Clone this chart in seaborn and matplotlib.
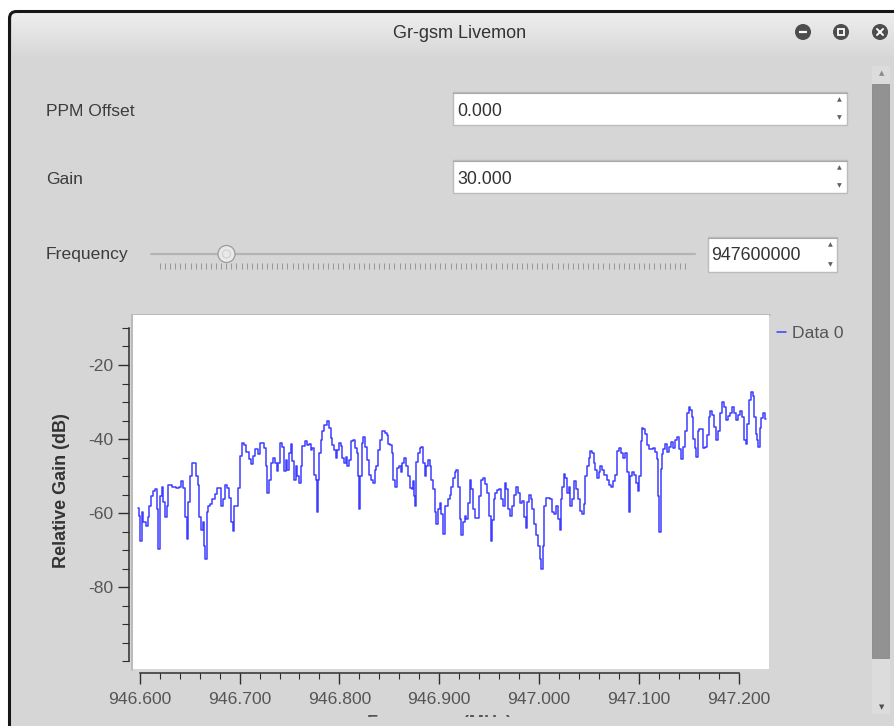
import numpy as np
import pandas as pd
import matplotlib
matplotlib.use("Agg")
import matplotlib.pyplot as plt
import seaborn as sns
from matplotlib.patches import Rectangle, Circle, FancyBboxPatch
from matplotlib.colors import LinearSegmentedColormap
from matplotlib.ticker import FixedLocator, FuncFormatter
from matplotlib.transforms import Bbox

# ---------------- data ----------------
freq_mhz = [
    946.5984, 946.5997, 946.6011, 946.6027, 946.6044, 946.6071, 946.6084, 946.6104, 946.6117, 946.6144,
    946.6164, 946.6177, 946.6194, 946.6211, 946.6227, 946.6244, 946.6261, 946.6277, 946.6294, 946.6311,
    946.6344, 946.6377, 946.6404, 946.6421, 946.6444, 946.6461, 946.6477, 946.6494, 946.6517, 946.6537,
    946.6554, 946.6571, 946.6587, 946.6604, 946.6621, 946.6637, 946.6651, 946.6661, 946.6677, 946.6694,
    946.6717, 946.6737, 946.6761, 946.6777, 946.6804, 946.6827, 946.6844, 946.6864, 946.6884, 946.6904,
    946.6924, 946.6937, 946.6954, 946.6977, 946.6997, 946.7017, 946.7037, 946.7061, 946.7077, 946.7104,
    946.7124, 946.7144, 946.7171, 946.7194, 946.7211,
    946.7237, 946.7254, 946.7271, 946.7287, 946.7304, 946.7321, 946.7344, 946.7364, 946.7377, 946.7397,
    946.7421, 946.7437, 946.7454, 946.7471, 946.7487, 946.7504, 946.7521, 946.7537, 946.7554, 946.7571,
    946.7587, 946.7604, 946.7621, 946.7637, 946.7664, 946.7687, 946.7704, 946.7721, 946.7737, 946.7754,
    946.7771, 946.7784, 946.7797, 946.7804, 946.7821, 946.7837, 946.7857, 946.7887, 946.7904, 946.7921,
    946.7937, 946.7954, 946.7971, 946.7987, 946.8004, 946.8021, 946.8037, 946.8054, 946.8071, 946.8087,
    946.8104, 946.8124, 946.8144, 946.8164, 946.8184, 946.8197, 946.8204, 946.8214, 946.8231, 946.8251,
    946.8271, 946.8287, 946.8304, 946.8327, 946.8347, 946.8364, 946.8377, 946.8397, 946.8417, 946.8444,
    946.8471,
    946.8481, 946.8497, 946.8514, 946.8531, 946.8547, 946.8564, 946.8581, 946.8604, 946.8624, 946.8637,
    946.8657, 946.8677, 946.8697, 946.8714, 946.8731, 946.8747, 946.8757, 946.8764, 946.8781, 946.8797,
    946.8814, 946.8831, 946.8847, 946.8864, 946.8881, 946.8897, 946.8914, 946.8931, 946.8947, 946.8964,
    946.8981, 946.8997, 946.9014, 946.9031, 946.9047, 946.9064, 946.9081, 946.9097, 946.9114, 946.9131,
    946.9147, 946.9164, 946.9181, 946.9197, 946.9214, 946.9231, 946.9247, 946.9264, 946.9281, 946.9297,
    946.9314, 946.9331, 946.9347, 946.9364, 946.9391, 946.9414, 946.9431, 946.9451, 946.9471, 946.9491,
    946.9511, 946.9524, 946.9537, 946.9554, 946.9571, 946.9591, 946.9611, 946.9631, 946.9647, 946.9664,
    946.9684, 946.9704, 946.9717,
    946.9724, 946.9741, 946.9764, 946.9784, 946.9804, 946.9824, 946.9844, 946.9857, 946.9874, 946.9891,
    946.9907, 946.9924, 946.9944, 946.9964, 946.9984, 947.0004, 947.0017, 947.0031, 947.0044, 947.0057,
    947.0074, 947.0097, 947.0124, 947.0144, 947.0164, 947.0184, 947.0197, 947.0217, 947.0224, 947.0241,
    947.0257, 947.0274, 947.0291, 947.0307, 947.0324, 947.0344, 947.0364, 947.0384, 947.0404, 947.0424,
    947.0441, 947.0457, 947.0474, 947.0491, 947.0507, 947.0524, 947.0541, 947.0557, 947.0574, 947.0591,
    947.0607, 947.0624, 947.0644, 947.0664, 947.0691, 947.0711, 947.0731, 947.0751, 947.0771, 947.0791,
    947.0811, 947.0831, 947.0851, 947.0871, 947.0891, 947.0907, 947.0924, 947.0944, 947.0964, 947.0984,
    947.0994, 947.1011, 947.1024, 947.1037, 947.1057, 947.1077, 947.1097, 947.1117, 947.1137, 947.1157,
    947.1171, 947.1184, 947.1197, 947.1211, 947.1224, 947.1237, 947.1257, 947.1277, 947.1297, 947.1317,
    947.1337, 947.1357, 947.1377, 947.1397, 947.1417, 947.1437, 947.1457, 947.1477, 947.1497, 947.1511,
    947.1524, 947.1537, 947.1551, 947.1571, 947.1584, 947.1597, 947.1617, 947.1637, 947.1651, 947.1671,
    947.1691, 947.1711, 947.1724, 947.1744, 947.1764, 947.1784, 947.1804, 947.1824, 947.1844, 947.1864,
    947.1884, 947.1904, 947.1924, 947.1944, 947.1964, 947.1984, 947.2004, 947.2024, 947.2044, 947.2064,
    947.2077, 947.2097, 947.2111, 947.2131, 947.2151, 947.2164, 947.2177, 947.2191, 947.2204, 947.2217,
    947.2237, 947.2251, 947.2271,
]

gain_db = [
    -58.5, -60.8, -67.5, -59.8, -62.5, -63.5, -61.0, -58.0, -55.4, -54.0,
    -53.6, -59.0, -69.7, -55.4, -53.0, -57.0, -61.0, -58.0, -52.5, -52.3,
    -53.0, -53.2, -53.0, -51.4, -53.3, -61.0, -67.0, -57.0, -50.0, -46.4,
    -46.4, -50.0, -52.5, -61.0, -64.4, -62.5, -68.8, -72.4, -59.8, -58.0,
    -57.6, -56.3, -54.8, -53.3, -53.1, -58.0, -56.3, -52.3, -53.3, -56.0,
    -62.5, -64.8, -58.0, -58.0, -53.2, -44.6, -41.0, -41.5, -43.6, -45.4,
    -46.7, -44.5, -42.6, -44.0, -41.0,
    -41.0, -42.5, -47.3, -54.5, -51.0, -46.5, -45.2, -46.5, -48.7, -46.5,
    -41.0, -42.0, -48.7, -45.7, -48.3, -43.7, -41.2, -46.0, -51.0, -47.3,
    -50.0, -51.8, -47.3, -41.9, -40.6, -41.5, -41.2, -42.9, -42.4, -49.6,
    -51.0, -59.8, -51.0, -43.8, -40.2, -37.9, -36.1, -35.2, -37.0, -39.7,
    -41.5, -42.9, -45.2, -42.9, -41.0, -41.9, -45.2, -46.5, -44.7, -47.3,
    -45.7, -40.5, -40.2, -42.4, -43.8, -50.0, -59.0, -50.0, -41.0, -39.3,
    -42.0, -45.7, -49.6, -51.0, -51.8, -48.3, -47.3, -42.9, -40.2, -37.9,
    -38.3,
    -39.0, -41.2, -41.6, -43.8, -51.0, -52.8, -47.7, -47.3, -48.9, -46.5,
    -45.2, -47.3, -50.0, -53.1, -53.6, -51.4, -55.4, -58.0, -46.1, -43.8,
    -42.5, -42.0, -46.5, -50.0, -47.3, -45.7, -47.3, -51.0, -53.6, -59.8,
    -63.0, -59.0, -57.2, -60.3, -65.7, -58.0, -58.0, -56.3, -55.0, -52.8,
    -50.6, -48.9, -48.4, -52.8, -61.6, -66.0, -62.5, -60.7, -61.6, -57.2,
    -51.0, -53.6, -59.0, -61.2, -61.2, -55.4, -51.0, -50.6, -52.0, -54.5,
    -60.7, -67.5, -61.9, -56.3, -54.5, -53.8, -53.6, -56.3, -58.0, -51.8,
    -53.6, -59.0, -60.7,
    -60.8, -58.0, -55.0, -53.0, -54.5, -57.2, -56.8, -61.0, -64.0, -57.0,
    -55.0, -56.3, -59.0, -63.0, -66.0, -68.8, -72.4, -75.1, -68.8, -58.0,
    -55.9, -55.9, -56.3, -59.8, -60.3, -58.0, -61.6, -64.4, -56.3, -52.8,
    -49.3, -50.6, -54.5, -52.8, -58.0, -56.3, -51.4, -53.6, -56.3, -59.4,
    -60.3, -57.6, -50.0, -47.3, -45.2, -43.3, -43.8, -46.5, -48.4, -50.6,
    -48.9, -47.3, -48.3, -49.6, -51.0, -52.3, -52.8, -51.4, -49.6, -43.3,
    -42.4, -43.8, -45.2, -43.8, -48.8, -59.8, -50.0, -48.9, -49.6, -51.8,
    -54.0, -50.0, -40.5, -37.0, -37.3, -38.6, -41.5, -42.7, -42.7, -42.3,
    -43.6, -45.5, -55.4, -65.2, -48.0, -44.0, -42.7, -41.2, -43.6, -42.0,
    -40.8, -42.5, -40.3, -39.5, -42.7, -45.5, -42.0, -37.8, -33.0, -31.3,
    -32.2, -34.0, -40.0, -42.5, -44.7, -37.8, -37.3, -37.3, -42.5, -42.0,
    -39.0, -34.0, -32.3, -33.5, -36.8, -40.3, -37.8, -33.0, -29.9, -31.3,
    -34.8, -33.9, -33.0, -31.3, -33.0, -34.8, -33.5, -32.3, -34.0, -40.3,
    -41.2, -35.8, -29.5, -27.2, -28.5, -34.0, -38.6, -40.3, -42.0, -37.0,
    -34.3, -33.0, -34.6,
]

series_name = "Data 0"
x_tick_values = [946.6, 946.7, 946.8, 946.9, 947.0, 947.1, 947.2]
y_tick_values = [-20, -40, -60, -80]
y_label = "Relative Gain (dB)"
x_label = "Frequency (MHz)"
window_title = "Gr-gsm Livemon"
field_labels = ["PPM Offset", "Gain", "Frequency"]
field_values = ["0.000", "30.000", "947600000"]

# ---------------- style ----------------
sns.set_theme(style="white")
plt.rcParams["font.family"] = ["Liberation Sans", "DejaVu Sans"]

W, H = 895, 726
fig = plt.figure(figsize=(W / 100, H / 100), dpi=100)
fig.patch.set_facecolor("white")

# background "window" canvas in pixel coordinates
bg = fig.add_axes([0, 0, 1, 1])
bg.set_xlim(0, W)
bg.set_ylim(H, 0)
bg.axis("off")

BODY = "#d6d6d6"
TXT = "#3c3c3c"

bg.add_patch(FancyBboxPatch((9.5, 11.5), 950, 800,
                            boxstyle="round,pad=0,rounding_size=7",
                            fc=BODY, ec="none", zorder=0))
grad = np.linspace(0, 1, 64).reshape(-1, 1)
cmap_t = LinearSegmentedColormap.from_list("tb", ["#eeeeee", "#d8d8d8"])
bg.imshow(grad, extent=(12, W, 56, 13), cmap=cmap_t, aspect="auto",
          origin="upper", zorder=1, interpolation="bilinear")
bg.set_xlim(0, W)
bg.set_ylim(H, 0)
bg.add_patch(FancyBboxPatch((9.5, 11.5), 950, 800,
                            boxstyle="round,pad=0,rounding_size=7",
                            fc="none", ec="#161616", lw=2.2, zorder=3))

bg.text(460, 33, window_title, ha="center", va="center", fontsize=13,
        color="#333333", zorder=4)

# window buttons
for cx in (803, 841, 880):
    bg.add_patch(Circle((cx, 32), 8, fc="#4d4d4d", ec="none", zorder=4))
bg.plot([799, 807], [32, 32], color="white", lw=1.6, zorder=5, solid_capstyle="butt")
bg.add_patch(Rectangle((837.8, 28.8), 6.4, 6.4, fc="none", ec="white", lw=1.3, zorder=5))
bg.plot([877, 883], [29, 35], color="white", lw=1.4, zorder=5)
bg.plot([877, 883], [35, 29], color="white", lw=1.4, zorder=5)

# labels of the controls
for lab, yy in zip(field_labels, (115.5, 183.5, 259.5)):
    bg.text(46, yy, lab, ha="left", va="baseline", fontsize=12.6, color=TXT, zorder=4)

# spin boxes
boxes = [(453.5, 92, 394, 33, 115.5), (453.5, 160, 394, 33, 183.5), (708, 237, 129, 35, 260.5)]
arrow_x = [839.5, 839.5, 830]
for (bx, by, bw, bh, ty), val, ax_ in zip(boxes, field_values, arrow_x):
    bg.add_patch(Rectangle((bx, by), bw, bh, fc="white", ec="#bcbcbc", lw=1, zorder=3))
    bg.plot([bx, bx + bw], [by + 0.5, by + 0.5], color="#a8a8a8", lw=0.8, zorder=4)
    bg.text(bx + 3.5, ty, val, ha="left", va="baseline", fontsize=12.8, color="#333333", zorder=4)
    bg.text(ax_, by + 8, "\u25b2", ha="center", va="center", fontsize=4.5,
            color="#606060", family="DejaVu Sans", zorder=4)
    bg.text(ax_, by + bh - 7, "\u25bc", ha="center", va="center", fontsize=4.5,
            color="#606060", family="DejaVu Sans", zorder=4)

# slider
bg.plot([151, 695], [253.5, 253.5], color="#b4b4b4", lw=1.6, zorder=3, solid_capstyle="round")
bg.vlines(np.linspace(160, 685, 104), 263, 268.5, color="#8c8c8c", lw=0.6, zorder=3)
bg.add_patch(Circle((226.5, 254), 8.5, fc="#e9e9e9", ec="#9c9c9c", lw=0.9, zorder=4))
bg.add_patch(Circle((226.5, 254), 4, fc="none", ec="#cfcfcf", lw=0.8, zorder=5))

# scrollbar
bg.add_patch(Rectangle((872, 66), 18, 648, fc="#dcdcdc", ec="none", zorder=2))
bg.add_patch(Rectangle((872.5, 84), 17, 574, fc="#929292", ec="#888888", lw=0.6, zorder=3))
bg.text(882, 73, "\u25b2", ha="center", va="center", fontsize=5, color="#8a8a8a",
        family="DejaVu Sans", zorder=4)
bg.text(882, 707, "\u25bc", ha="center", va="center", fontsize=5, color="#505050",
        family="DejaVu Sans", zorder=4)

# plot canvas frame (sunken look)
bg.plot([132.5, 770], [314.5, 314.5], color="#b9b9b9", lw=1.3, zorder=3)
bg.plot([132.5, 132.5], [314.5, 669.5], color="#b9b9b9", lw=1.3, zorder=3)

# ---------------- plot ----------------
L, R, T, B = 133.3, 769.3, 315.0, 669.0
ax = fig.add_axes([L / W, 1 - B / H, (R - L) / W, (B - T) / H])
ax.set_facecolor("white")

df = pd.DataFrame({"freq": freq_mhz, "gain": gain_db})
sns.lineplot(data=df, x="freq", y="gain", ax=ax, color="#3d3dff", lw=1.1,
             drawstyle="steps-mid", estimator=None, label=series_name)

px_per_mhz = 998.0
x0_px = 139.8
ax.set_xlim(946.6 + (L - x0_px) / px_per_mhz, 946.6 + (R - x0_px) / px_per_mhz)
slope = 3.705
ax.set_ylim(-20 - (B - 365) / slope, -20 + (365 - T) / slope)

for s in ("top", "right"):
    ax.spines[s].set_visible(False)
ax.spines["left"].set_position(("outward", 4 * 0.72))
ax.spines["bottom"].set_position(("outward", 4 * 0.72))
ax.spines["left"].set_bounds(-100, -10)
ax.spines["bottom"].set_bounds(946.6, 947.2)
for s in ("left", "bottom"):
    ax.spines[s].set_color("#2e2e2e")
    ax.spines[s].set_linewidth(1.1)

ax.xaxis.set_major_locator(FixedLocator(x_tick_values))
ax.xaxis.set_minor_locator(FixedLocator([946.6 + 0.02 * i for i in range(31)]))
ax.xaxis.set_major_formatter(FuncFormatter(lambda v, p: f"{v:.3f}"))
ax.yaxis.set_major_locator(FixedLocator(y_tick_values))
ax.yaxis.set_minor_locator(FixedLocator([-100 + 5 * i for i in range(19)]))
ax.yaxis.set_major_formatter(FuncFormatter(lambda v, p: f"{int(round(v))}"))

ax.tick_params(axis="both", which="both", direction="out", color="#2e2e2e",
               labelcolor="#555555", labelsize=12.6, bottom=True, left=True)
ax.tick_params(axis="x", which="major", length=8, width=1.0, pad=5.5)
ax.tick_params(axis="x", which="minor", length=4.3, width=0.8)
ax.tick_params(axis="y", which="major", length=8, width=1.0, pad=3.5)
ax.tick_params(axis="y", which="minor", length=5.2, width=0.8)

ax.set_ylabel(y_label, fontsize=13, fontweight="bold", color="#333333")
ax.yaxis.set_label_coords((61.5 - L) / (R - L), (B - 491) / (B - T))
ax.yaxis.label.set_verticalalignment("center")

# axis title sits mostly below the visible window edge: only its top shows
ax.set_xlabel(x_label, fontsize=13, fontweight="bold", color="#555555")
ax.xaxis.set_label_coords((439 - L) / (R - L), (B - 714.5) / (B - T))
ax.xaxis.label.set_verticalalignment("top")
ax.xaxis.label.set_clip_box(Bbox.from_extents(0, H - 716.5, W, H))
ax.xaxis.label.set_clip_on(True)

leg = ax.legend(loc="upper left", bbox_to_anchor=(777 / W, 1 - 326 / H),
                bbox_transform=fig.transFigure, frameon=False, handlelength=0.5,
                handletextpad=0.35, borderaxespad=0, borderpad=0, fontsize=12.6)
for t in leg.get_texts():
    t.set_color("#555555")

fig.savefig("out.png", dpi=100)
